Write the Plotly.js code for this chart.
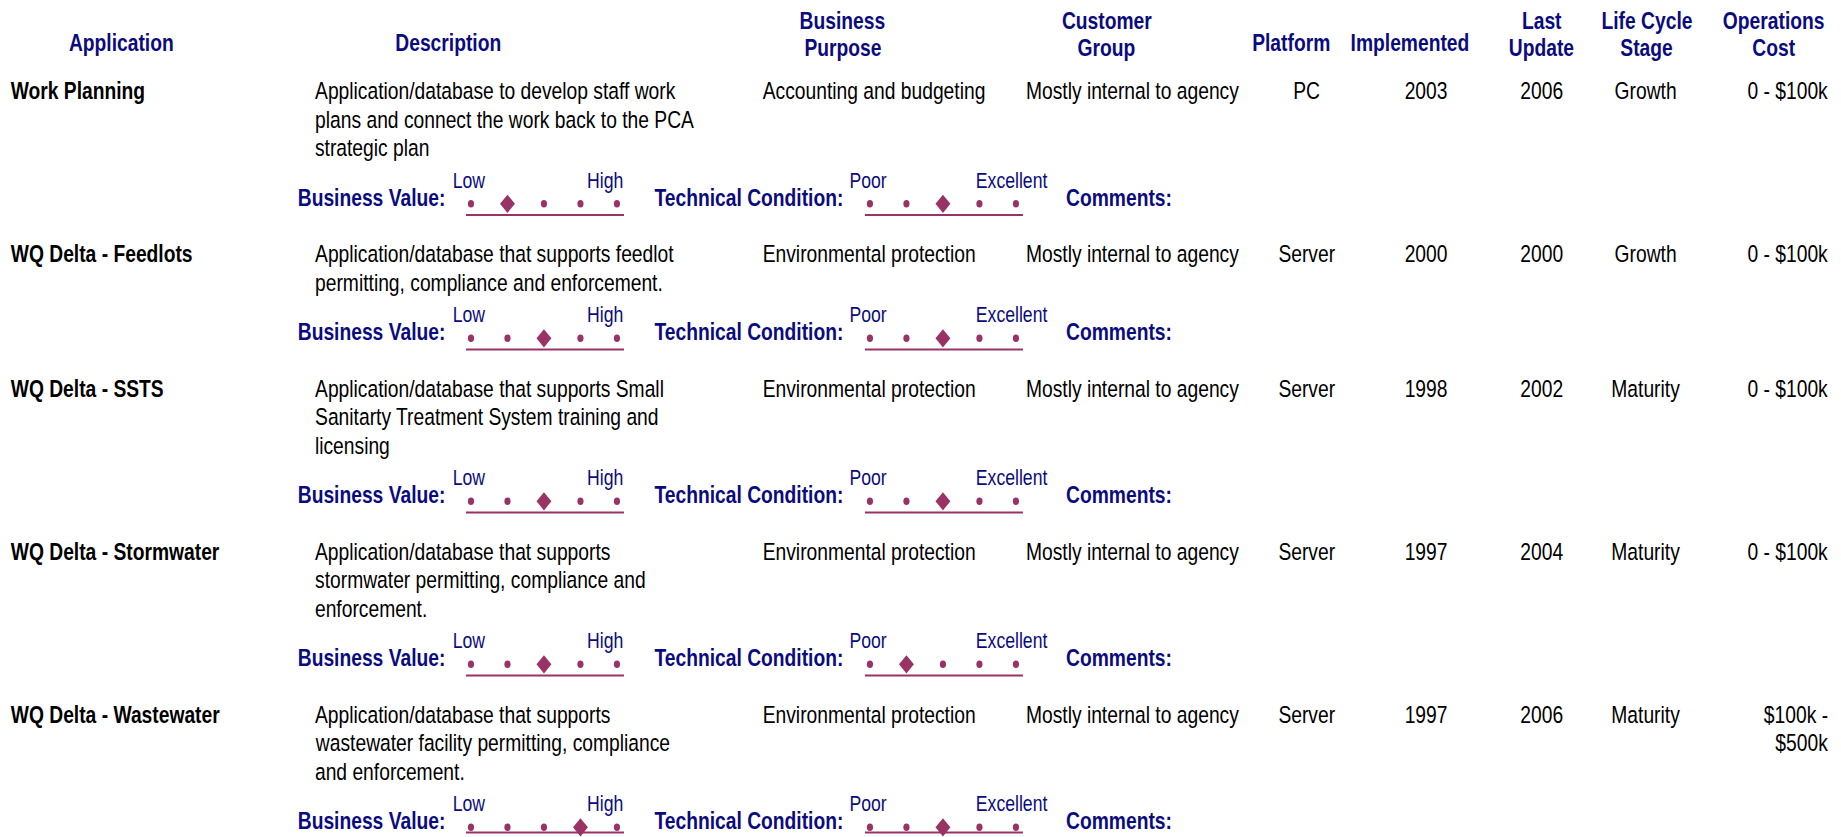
<!DOCTYPE html>
<html><head><meta charset="utf-8">
<script src="https://cdn.plot.ly/plotly-3.0.1.min.js"></script>
<style>html,body{margin:0;padding:0;background:#fff;overflow:hidden;width:1841px;height:837px}</style>
</head><body><div id="chart"></div>
<script>
// ---------------- data ----------------
const headers = ["Application", "Description", "Business\nPurpose", "Customer\nGroup", "Platform",
                 "Implemented", "Last\nUpdate", "Life Cycle\nStage", "Operations\nCost"];
const applications = ["Work Planning", "WQ Delta - Feedlots", "WQ Delta - SSTS",
                      "WQ Delta - Stormwater", "WQ Delta - Wastewater"];
const descriptions = [
  ["Application/database to develop staff work", "plans and connect the work back to the PCA", "strategic plan"],
  ["Application/database that supports feedlot", "permitting, compliance and enforcement."],
  ["Application/database that supports Small", "Sanitarty Treatment System training and", "licensing"],
  ["Application/database that supports", "stormwater permitting, compliance and", "enforcement."],
  ["Application/database that supports", "wastewater facility permitting, compliance", "and enforcement."]
];
const businessPurpose = ["Accounting and budgeting", "Environmental protection", "Environmental protection",
                         "Environmental protection", "Environmental protection"];
const customerGroup = ["Mostly internal to agency", "Mostly internal to agency", "Mostly internal to agency",
                       "Mostly internal to agency", "Mostly internal to agency"];
const platforms = ["PC", "Server", "Server", "Server", "Server"];
const implemented = ["2003", "2000", "1998", "1997", "1997"];
const lastUpdate = ["2006", "2000", "2002", "2004", "2006"];
const lifeCycle = ["Growth", "Growth", "Maturity", "Maturity", "Maturity"];
const operationsCost = ["0 - $100k", "0 - $100k", "0 - $100k", "0 - $100k", "$100k -\n$500k"];
const businessValue = [2, 3, 3, 3, 4];        // 1 = Low ... 5 = High
const technicalCondition = [3, 3, 3, 2, 3];   // 1 = Poor ... 5 = Excellent
const scaleSteps = [1, 2, 3, 4, 5];
const bvEnds = ["Low", "High"];
const tcEnds = ["Poor", "Excellent"];

// ---------------- style / layout ----------------
const W = 1841, H = 837;
const SX = 0.82;                 // horizontal compression of the original report
const PW = W / SX;               // plot width before compression
const NAVY = "#0b0b80", MAROON = "#993366", BLACK = "#000000";
const FONT = "'Liberation Sans', Arial, sans-serif";
const FS = 23.5, FS_LBL = 23.5, FS_SMALL = 21.5;

const box = document.getElementById("chart");
box.style.width = PW + "px";
box.style.height = H + "px";
box.style.transform = "scaleX(" + SX + ")";
box.style.transformOrigin = "0 0";

const colX = {app: 10, desc: 314, purpose: 762, customer: 1025, platform: 1307,
              impl: 1426, last: 1542, life: 1646, cost: 1829};
const headX = [121, 448, 843, 1107, 1291, 1410, 1542, 1647, 1774];
const LINE = 28.5, FIRST = 91, BVOFF = 49.5, GAP = 56.5;

const rows = [];
let yCur = FIRST;
for (let i = 0; i < applications.length; i++) {
  const top = yCur;
  const bv = top + (descriptions[i].length - 1) * LINE + BVOFF;
  rows.push({top, bv});
  yCur = bv + GAP;
}

const ann = [];
function txt(x, y, text, o) {
  ann.push(Object.assign({x, y, xref: "x", yref: "y", text, showarrow: false,
    xanchor: "left", yanchor: "middle", borderpad: 0,
    font: {family: FONT, size: FS, color: BLACK}}, o || {}));
}

// headers
headers.forEach((h, k) => {
  const lines = h.split("\n");
  lines.forEach((ln, j) => {
    const y = lines.length === 1 ? 43 : 21 + 26.5 * j;
    txt(headX[k], y, "<b>" + ln + "</b>", {xanchor: "center", font: {family: FONT, size: FS, color: NAVY}});
  });
});

// rows
rows.forEach((r, i) => {
  txt(colX.app, r.top, "<b>" + applications[i] + "</b>");
  descriptions[i].forEach((ln, j) => txt(colX.desc, r.top + j * LINE, ln));
  txt(colX.purpose, r.top, businessPurpose[i]);
  txt(colX.customer, r.top, customerGroup[i]);
  txt(colX.platform, r.top, platforms[i], {xanchor: "center"});
  txt(colX.impl, r.top, implemented[i], {xanchor: "center"});
  txt(colX.last, r.top, lastUpdate[i], {xanchor: "center"});
  txt(colX.life, r.top, lifeCycle[i], {xanchor: "center"});
  operationsCost[i].split("\n").forEach((ln, j) => txt(colX.cost, r.top + j * LINE, ln, {xanchor: "right"}));

  const navyBold = {family: FONT, size: FS_LBL, color: NAVY};
  txt(446, r.bv, "<b>Business Value:</b>", {xanchor: "right", font: navyBold});
  txt(845, r.bv, "<b>Technical Condition:</b>", {xanchor: "right", font: navyBold});
  txt(1065, r.bv, "<b>Comments:</b>", {font: navyBold});
  const sm = {family: FONT, size: FS_SMALL, color: NAVY};
  txt(452, r.bv - 17, bvEnds[0], {font: sm});
  txt(624, r.bv - 17, bvEnds[1], {xanchor: "right", font: sm});
  txt(849, r.bv - 17, tcEnds[0], {font: sm});
  txt(1048, r.bv - 17, tcEnds[1], {xanchor: "right", font: sm});
});

// rating scales
function scaleTraces(values, xa) {
  const dx = [], dy = [], mx = [], my = [];
  rows.forEach((r, i) => {
    scaleSteps.forEach(v => { if (v !== values[i]) { dx.push(v); dy.push(r.bv + 6.3); } });
    mx.push(values[i]); my.push(r.bv + 6.3);
  });
  return [
    {type: "scatter", mode: "markers", x: dx, y: dy, xaxis: xa, yaxis: "y",
     marker: {symbol: "circle", size: 7.5, color: MAROON}, hoverinfo: "skip"},
    {type: "scatter", mode: "markers", x: mx, y: my, xaxis: xa, yaxis: "y",
     marker: {symbol: "diamond", size: 14, color: MAROON}, hoverinfo: "skip"}
  ];
}
const traces = [...scaleTraces(businessValue, "x2"), ...scaleTraces(technicalCondition, "x3")];

// underline of each scale (the last one sits at the page's bottom edge, as in the report)
const shapes = [];
rows.forEach(r => {
  const ly = Math.min(r.bv + 17.6, H - 4.5);
  ["x2 domain", "x3 domain"].forEach(xr => shapes.push({type: "line", xref: xr, yref: "y",
    x0: 0, x1: 1, y0: ly, y1: ly, line: {color: MAROON, width: 2}}));
});

const hidden = {visible: false, showgrid: false, zeroline: false, fixedrange: true};
const layout = {
  width: PW, height: H, margin: {l: 0, r: 0, t: 0, b: 0},
  paper_bgcolor: "#fff", plot_bgcolor: "#fff", showlegend: false, hovermode: false,
  xaxis: Object.assign({range: [0, W], domain: [0, 1]}, hidden),
  yaxis: Object.assign({range: [H, 0], domain: [0, 1]}, hidden),
  xaxis2: Object.assign({range: [0.863, 5.192], domain: [466 / W, 624 / W], anchor: "y"}, hidden),
  xaxis3: Object.assign({range: [0.863, 5.192], domain: [865 / W, 1023 / W], anchor: "y"}, hidden),
  annotations: ann, shapes: shapes
};
Plotly.newPlot("chart", traces, layout, {displayModeBar: false, staticPlot: true});
</script></body></html>
